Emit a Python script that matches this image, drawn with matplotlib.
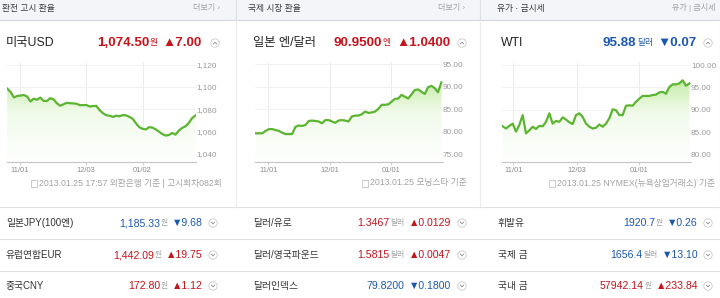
import numpy as np
import matplotlib
matplotlib.use('Agg')
import matplotlib.pyplot as plt
from matplotlib.colors import LinearSegmentedColormap
from matplotlib.patches import Circle, Rectangle

plt.rcParams['font.family'] = ['Liberation Sans', 'Noto Sans CJK KR', 'DejaVu Sans']

# ---- chart data (one value per trading day) ----
usd_krw = [1098.5, 1095.5, 1090.7, 1092.0, 1092.3, 1092.8, 1091.5, 1087.0, 1089.5, 1088.6,
           1090.5, 1087.5, 1087.5, 1090.0, 1089.0, 1085.5, 1083.2, 1084.5, 1085.8, 1085.5,
           1085.3, 1085.0, 1083.7, 1083.8, 1083.8, 1082.5, 1083.0, 1083.0, 1079.2, 1076.5,
           1074.7, 1074.3, 1073.2, 1074.3, 1073.8, 1074.8, 1074.6, 1073.3, 1071.5, 1067.5,
           1064.0, 1062.5, 1062.0, 1064.0, 1063.6, 1062.0, 1060.0, 1057.8, 1056.5, 1057.0,
           1058.8, 1057.3, 1061.0, 1063.3, 1064.8, 1067.8, 1072.0, 1074.5]
usd_ticks = [3.8, 23.8, 41.0]
usd_ticklabels = ['11/01', '12/03', '01/02']
usd_yticks = [1040, 1060, 1080, 1100, 1120]

jpy_usd = [79.67, 79.67, 79.67, 80.2, 80.6, 80.6, 80.4, 80.2, 79.8, 79.5,
           79.5, 79.5, 81.1, 81.4, 81.3, 81.5, 82.4, 82.5, 82.4, 82.3,
           81.9, 82.6, 82.6, 82.3, 82.0, 82.5, 82.6, 82.5, 82.3, 83.4,
           83.6, 83.6, 83.9, 84.5, 84.2, 84.3, 84.5, 85.1, 86.0, 86.0,
           86.1, 86.7, 87.3, 87.4, 88.2, 87.8, 87.4, 88.3, 89.3, 89.4,
           88.9, 88.4, 89.9, 90.2, 89.7, 88.8, 90.95]
jpy_ticks = [3.8, 22.3, 40.8]
jpy_ticklabels = ['11/01', '12/01', '01/01']
jpy_yticks = [75, 80, 85, 90, 95]

wti = [86.3, 85.8, 86.4, 86.9, 85.1, 86.6, 88.8, 84.7, 85.4, 86.2,
       85.7, 86.4, 86.3, 87.3, 89.2, 86.9, 87.5, 87.3, 88.3, 87.8,
       87.2, 86.8, 88.8, 89.2, 88.4, 86.9, 86.2, 85.8, 85.97, 86.7,
       86.2, 86.9, 88.1, 90.1, 89.9, 88.8, 88.8, 90.9, 91.0, 90.9,
       91.8, 92.5, 93.1, 93.1, 93.1, 93.3, 93.4, 93.9, 94.0, 93.6,
       95.1, 95.7, 95.7, 95.9, 96.6, 95.4, 95.88]
wti_ticks = [3.2, 22.2, 40.9]
wti_ticklabels = ['11/01', '12/03', '01/01']
wti_yticks = [80, 85, 90, 95, 100]

# ---- text content ----
panel_titles = ['환전 고시 환율', '국제 시장 환율', '유가 · 금시세']
panel_links = ['더보기 ›', '더보기 ›', '유가 | 금시세']
main_names = ['미국USD', '일본 엔/달러', 'WTI']
main_values = ['1,074.50', '90.9500', '95.88']
main_units = ['원', '엔', '달러']
main_changes = ['▲7.00', '▲1.0400', '▼0.07']
footnotes = ['2013.01.25 17:57 외환은행 기준 | 고시회차082회',
             '2013.01.25 모닝스타 기준',
             '2013.01.25 NYMEX(뉴욕상업거래소) 기준']
row_names = [['일본JPY(100엔)', '유럽연합EUR', '중국CNY'],
             ['달러/유로', '달러/영국파운드', '달러인덱스'],
             ['휘발유', '국제 금', '국내 금']]
row_values = [['1,185.33', '1,442.09', '172.80'],
              ['1.3467', '1.5815', '79.8200'],
              ['1920.7', '1656.4', '57942.14']]
row_units = [['원', '원', '원'],
             ['달러', '달러', ''],
             ['원', '달러', '원']]
row_changes = [['▼9.68', '▲19.75', '▲1.12'],
               ['▲0.0129', '▲0.0047', '▼0.1800'],
               ['▼0.26', '▼13.10', '▲233.84']]

RED = '#c4141c'
BLUE = '#1d58b0'
LINE = '#5cb531'
W, H = 720, 298

fig = plt.figure(figsize=(W / 100, H / 100), dpi=100)
canvas = fig.add_axes([0, 0, 1, 1], zorder=0)
canvas.set_xlim(0, W)
canvas.set_ylim(H, 0)
canvas.axis('off')
renderer = fig.canvas.get_renderer()


def px_axes(x0, x1, y0, y1):
    return fig.add_axes([x0 / W, 1 - y1 / H, (x1 - x0) / W, (y1 - y0) / H], zorder=1)


def chain(x_right, y, parts):
    # draw text pieces right to left, each (text, kwargs, gap before)
    x = x_right
    for s, kw, gap in reversed(parts):
        if s:
            t = canvas.text(x, y, s, ha='right', va='center', **kw)
            x -= t.get_window_extent(renderer).width + gap
    return x


def icon(cx, cy, up):
    canvas.add_patch(Circle((cx, cy), 4.2, facecolor='white', edgecolor='#c9c9c9', lw=0.6))
    d = -0.8 if up else 0.8
    canvas.plot([cx - 1.6, cx, cx + 1.6], [cy - d, cy + d, cy - d], color='#8a8a8a', lw=0.6)


green = LinearSegmentedColormap.from_list('g', ['#ffffff', '#f0faea', '#b0e386'])


def chart(ax, vals, xlim, ylim, ticks, ticklabels, yticks, fmt):
    x = np.arange(len(vals))
    ax.plot(x, vals, color=LINE, lw=1.6, solid_joinstyle='round', zorder=4)
    poly = ax.fill_between(x, vals, ylim[0], color='none', lw=0)
    grad = np.linspace(0, 1, 256).reshape(-1, 1)
    im = ax.imshow(grad, cmap=green, origin='lower', aspect='auto',
                   extent=[x[0], x[-1], ylim[0], ylim[1]], zorder=2)
    im.set_clip_path(poly.get_paths()[0], transform=ax.transData)
    ax.set_xlim(*xlim)
    ax.set_ylim(*ylim)
    ax.set_facecolor('none')
    for s in ['top', 'left', 'right']:
        ax.spines[s].set_visible(False)
    ax.spines['bottom'].set_color('#c4c4c4')
    ax.spines['bottom'].set_linewidth(0.8)
    ax.set_xticks(ticks)
    ax.set_xticklabels(ticklabels)
    ax.set_yticks(yticks)
    ax.set_yticklabels([fmt.format(v) for v in yticks])
    ax.tick_params(axis='x', length=2, color='#d0d0d0', labelsize=5.4, labelcolor='#8a8a8a', pad=1.5)
    ax.tick_params(axis='y', left=False, right=False, labelleft=False, labelright=True,
                   length=0, labelsize=5.9, labelcolor='#9a9a9a', pad=0)
    ax.grid(axis='x', color='#ebebeb', lw=0.7, zorder=1)
    ax.grid(axis='y', color='#f2f2f2', lw=0.7, zorder=1)
    ax.set_axisbelow(True)


# ---- background / frames ----
canvas.add_patch(Rectangle((0, 0), W, 19.5, facecolor='#f4f5f8', edgecolor='none'))
canvas.plot([0, W], [19.5, 19.5], color='#d3d6dc', lw=0.8)
for xd in [236, 480]:
    canvas.plot([xd, xd], [0, 19.5], color='#dcdfe4', lw=0.8)
    canvas.plot([xd, xd], [19.5, 207], color='#ececec', lw=0.8)
canvas.plot([719.5, 719.5], [19.5, 207], color='#ececec', lw=0.8)
for yl in [207, 238.5, 270.5]:
    canvas.plot([0, W], [yl, yl], color='#e2e2e2', lw=0.8)

# ---- charts ----
chart(px_axes(7, 196, 62, 162), usd_krw, (-0.1, 57.2), (1032.8, 1122.4),
      usd_ticks, usd_ticklabels, usd_yticks, '{:,.0f}')
chart(px_axes(255, 443, 62, 162), jpy_usd, (-0.2, 56.5), (73.3, 95.5),
      jpy_ticks, jpy_ticklabels, jpy_yticks, '{:.2f}')
chart(px_axes(502, 691, 62, 162), wti, (-0.2, 56.5), (78.3, 100.7),
      wti_ticks, wti_ticklabels, wti_yticks, '{:.2f}')

# ---- texts ----
head_x = [2, 248, 497]
link_r = [220, 465, 716]
name_x = [6, 253, 501]
main_r = [202, 450, 697]
main_icon = [215, 462, 708]
foot_r = [222, 467, 715]
row_x = [6, 253, 498]
row_r = [203, 451, 698]
row_icon = [213, 462, 708]
row_y = [223, 255, 286]

for p in range(3):
    canvas.text(head_x[p], 8, panel_titles[p], fontsize=6.3, color='#3a3a3a', va='center')
    canvas.text(link_r[p], 8, panel_links[p], fontsize=5.8, color='#a0a0a0', va='center', ha='right')

    canvas.text(name_x[p], 43, main_names[p], fontsize=8.8, color='#222222', va='center')
    col = RED if main_changes[p].startswith('▲') else BLUE
    chain(main_r[p], 43, [
        (main_values[p], dict(fontsize=9.6, fontweight='bold', color=col), 0),
        (main_units[p], dict(fontsize=6.3, color=col), 0.5),
        (main_changes[p], dict(fontsize=9.6, fontweight='bold', color=col), 5),
    ])
    icon(main_icon[p], 43, True)

    left = chain(foot_r[p], 183, [(footnotes[p], dict(fontsize=6.3, color='#a3a3a3'), 0)])
    canvas.add_patch(Rectangle((left - 8, 179.5), 6, 7, facecolor='none', edgecolor='#b5b5b5', lw=0.5))

    for r in range(3):
        canvas.text(row_x[p], row_y[r], row_names[p][r], fontsize=7, color='#333333', va='center')
        col = RED if row_changes[p][r].startswith('▲') else BLUE
        chain(row_r[p], row_y[r], [
            (row_values[p][r], dict(fontsize=7.6, color=col), 0),
            (row_units[p][r], dict(fontsize=5.6, color='#a0a0a0'), 1),
            (row_changes[p][r], dict(fontsize=7.6, color=col), 4),
        ])
        icon(row_icon[p], row_y[r], False)

fig.savefig('out.png', dpi=100)
